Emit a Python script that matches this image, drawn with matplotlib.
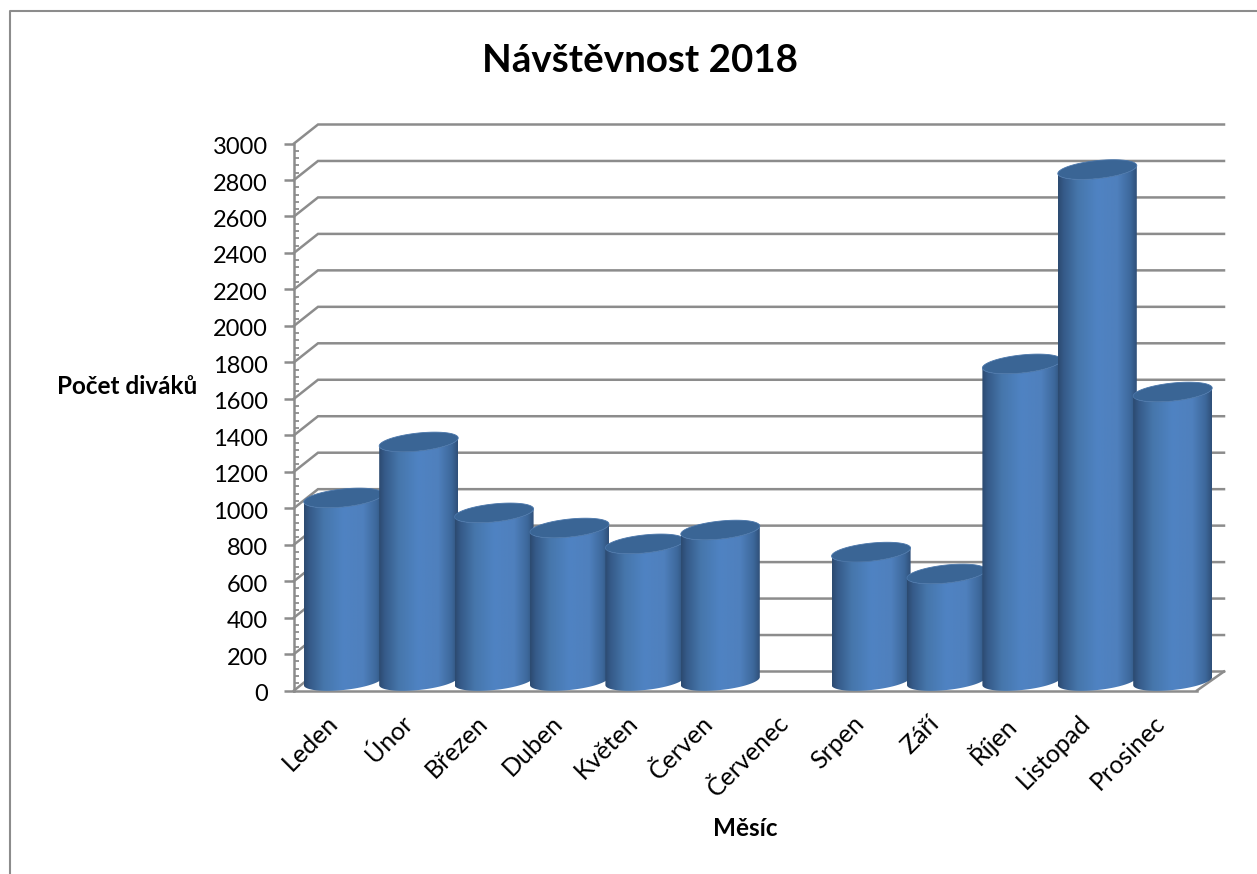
import numpy as np
import matplotlib
matplotlib.use('Agg')
import matplotlib.pyplot as plt
from matplotlib.lines import Line2D
from matplotlib.patches import PathPatch
from matplotlib.path import Path
from matplotlib.colors import LinearSegmentedColormap
from matplotlib.transforms import ScaledTranslation

months = ['Leden', 'Únor', 'Březen', 'Duben', 'Květen', 'Červen', 'Červenec',
          'Srpen', 'Září', 'Říjen', 'Listopad', 'Prosinec']
visitors = [1004, 1311, 922, 839, 752, 828, 0, 707, 587, 1739, 2805, 1585]
y_ticks = list(range(0, 3001, 200))

plt.rcParams['font.family'] = ['Lato', 'DejaVu Sans']

W, H = 1257, 874
fig = plt.figure(figsize=(W / 100, H / 100), dpi=100)
# front plane of the fake 3d box, in pixels
left, right, top, bottom = 294, 1197, 143.5, 690.5
ax = fig.add_axes([left / W, 1 - bottom / H, (right - left) / W, (bottom - top) / H])
ax.set_xlim(-0.5, 11.5)
ax.set_ylim(0, 3000)

px_x = 12 / (right - left)
px_y = 3000 / (bottom - top)
depth_x = 27 * px_x
back_x = 24 * px_x
depth_y = 19 * px_y

GRID = '#8c8c8c'
LW = 1.8

# back wall lines and the slanted bits on the left
for v in y_ticks:
    ax.plot([-0.5, -0.5 + back_x, 11.5 + depth_x], [v, v + depth_y, v + depth_y],
            color=GRID, lw=LW, clip_on=False, zorder=1, solid_joinstyle='miter')
# floor, right side
ax.plot([11.5, 11.5 + depth_x], [0, depth_y], color=GRID, lw=LW, clip_on=False, zorder=1)

cmap = LinearSegmentedColormap.from_list('cyl', [
    (0.0, '#2c4a70'), (0.07, '#355a88'), (0.25, '#4676ab'), (0.5, '#4f83c3'),
    (0.75, '#4f80bd'), (0.92, '#3d689b'), (1.0, '#2f4f78')])
grad = np.linspace(0, 1, 256).reshape(1, -1)

hw = 39.5 * px_x
skew = 4 * px_y
minor = 9 * px_y
base = 52
offset = 0.155
spacing = 1.002
t = np.linspace(0, 2 * np.pi, 121)

# later bars sit on top of earlier ones
for i, v in enumerate(visitors):
    if v <= 0:
        continue
    cx = i * spacing + offset
    ex = cx + hw * np.cos(t)
    ey = skew * np.cos(t) + minor * np.sin(t)
    # body outline: lower half of bottom ellipse, then lower half of top one reversed
    low = t[60:121]
    bx = cx + hw * np.cos(low)
    by = base + skew * np.cos(low) + minor * np.sin(low)
    tx = bx[::-1]
    ty = v + base + (skew * np.cos(low) + minor * np.sin(low))[::-1]
    verts = np.column_stack([np.r_[bx, tx], np.r_[by, ty]])
    body = PathPatch(Path(np.r_[verts, verts[:1]], closed=True), transform=ax.transData,
                     fc='none', ec='none', clip_on=False)
    ax.add_patch(body)
    im = ax.imshow(grad, extent=[cx - hw, cx + hw, 0, v + 2 * base], aspect='auto', cmap=cmap,
                   zorder=2 + i * 0.1, interpolation='bilinear')
    im.set_clip_box(fig.bbox)
    im.set_clip_path(body)
    ax.fill(ex, v + base + ey, color='#3a6595', lw=0.6, ec='#4a76aa', clip_on=False,
            zorder=2.05 + i * 0.1)

ax.set_xlim(-0.5, 11.5)
ax.set_ylim(0, 3000)

for s in ['top', 'right']:
    ax.spines[s].set_visible(False)
for s in ['left', 'bottom']:
    ax.spines[s].set_color(GRID)
    ax.spines[s].set_linewidth(LW)
    ax.spines[s].set_zorder(1.5)

ax.set_yticks(y_ticks)
ax.set_yticks(np.arange(0, 3001, 40), minor=True)
ax.tick_params(axis='y', which='major', length=7.5, width=LW, color=GRID, direction='out',
               labelsize=17, pad=11.5)
ax.tick_params(axis='y', which='minor', length=3.5, width=1.3, color=GRID, direction='in')
ax.set_xticks(range(len(months)))
ax.set_xticklabels(months, rotation=45, ha='right', rotation_mode='anchor', fontsize=18)
ax.tick_params(axis='x', length=0, pad=15)

# nudge labels to where the reference has them
for lab in ax.get_xticklabels():
    lab.set_transform(lab.get_transform() + ScaledTranslation(-4.5 / 72, 0, fig.dpi_scale_trans))
for lab in ax.get_yticklabels():
    lab.set_transform(lab.get_transform() + ScaledTranslation(0, -1.5 / 72, fig.dpi_scale_trans))

ax.set_ylabel('Počet diváků', rotation=0, fontsize=17.5, fontweight='bold', ha='center', va='center')
ax.yaxis.set_label_coords((127 - left) / (right - left), (bottom - 386) / (bottom - top))
ax.set_xlabel('Měsíc', fontsize=17.5, fontweight='bold', ha='center', va='center')
ax.xaxis.set_label_coords((745 - left) / (right - left), (bottom - 829) / (bottom - top))

fig.suptitle('Návštěvnost 2018', x=640 / W, y=1 - 61 / H, fontsize=27.7, fontweight='bold',
             ha='center', va='center')

# chart frame, cut off by the image on right and bottom
fig.add_artist(Line2D([9.5 / W, 9.5 / W, 1], [0, 1 - 11 / H, 1 - 11 / H], color=GRID, lw=1.5))

fig.savefig('out.png', dpi=100)
